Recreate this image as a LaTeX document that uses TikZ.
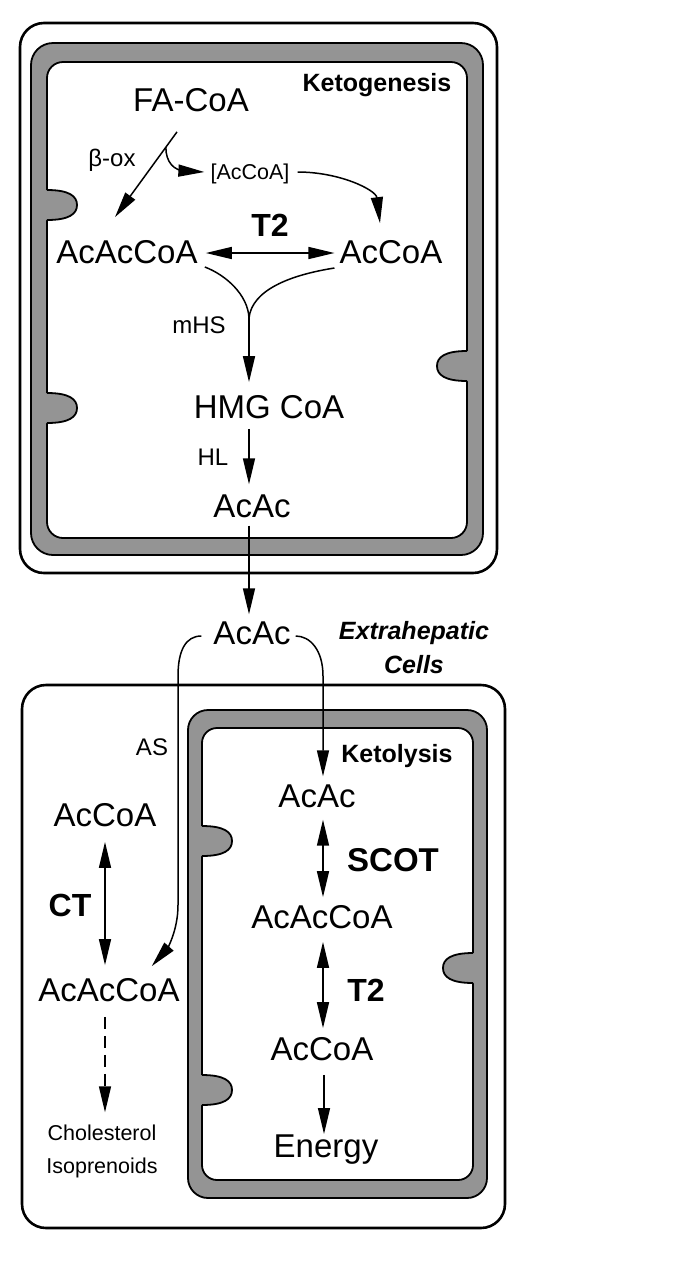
\documentclass[tikz,border=0pt]{standalone}
\usepackage{fontspec}
\setmainfont{Liberation Sans}
\usetikzlibrary{arrows.meta,calc}

\newcommand{\mol}{\fontsize{33}{38}\selectfont}
\newcommand{\enz}{\fontsize{24}{28}\selectfont}
\newcommand{\crista}[3]{% wall x, centre y, +1 = into the right, -1 = into the left
  \fill[membrane] ({#1-(#3)*5},#2-15) -- (#1,#2-15) .. controls ({#1+(#3)*22},#2-15) and ({#1+(#3)*30},#2-9) .. ({#1+(#3)*30},#2)
    .. controls ({#1+(#3)*30},#2+9) and ({#1+(#3)*22},#2+15) .. (#1,#2+15) -- ({#1-(#3)*5},#2+15) -- cycle;
  \draw[wall] (#1,#2-15) .. controls ({#1+(#3)*22},#2-15) and ({#1+(#3)*30},#2-9) .. ({#1+(#3)*30},#2)
    .. controls ({#1+(#3)*30},#2+9) and ({#1+(#3)*22},#2+15) .. (#1,#2+15);
}

\begin{document}
\begin{tikzpicture}[x=1pt, y=-1pt,
  every node/.style={inner sep=0pt},
  arr/.style={line width=1.5pt, -{Triangle[length=26pt,width=12pt]}},
  dbl/.style={line width=1.5pt, {Triangle[length=26pt,width=12pt]}-{Triangle[length=26pt,width=12pt]}},
  cellwall/.style={line width=2.6pt, rounded corners=24pt},
  membrane/.style={fill=black!42},
  wall/.style={line width=1.8pt}]
  \useasboundingbox (0,0) rectangle (685,1278);

  % liver cell
  \draw[cellwall] (20,23) rectangle (497,573);
  \draw[wall, membrane, rounded corners=22pt] (31,43) rectangle (483,555);
  \draw[wall, fill=white, rounded corners=16pt] (47,62) rectangle (467,538);
  \crista{47}{205}{1}
  \crista{47}{408}{1}
  \crista{467}{366}{-1}

  % extrahepatic cell
  \draw[cellwall] (22,685) rectangle (505,1228);
  \draw[wall, membrane, rounded corners=20pt] (188,710) rectangle (487,1198);
  \draw[wall, fill=white, rounded corners=15pt] (202,728) rectangle (473,1180);
  \crista{202}{841}{1}
  \crista{202}{1090}{1}
  \crista{473}{968}{-1}

  % ketogenesis
  \node[font=\bfseries\fontsize{25}{28}\selectfont] (ketogen) at (377,85) {Ketogenesis};
  \node[font=\mol] (facoa) at (191,100) {FA-CoA};
  \node[font=\enz] (betaox) at (112,160) {β-ox};
  \node[font=\fontsize{21.5}{24}\selectfont] (bacoa) at (250,174) {[AcCoA]};
  \node[font=\bfseries\fontsize{32}{36}\selectfont] (tt) at (270,225) {T2};
  \node[font=\mol] (acaccoa) at (127,252) {AcAcCoA};
  \node[font=\mol] (accoa) at (391,252) {AcCoA};
  \node[font=\enz] (mhs) at (199,325) {mHS};
  \node[font=\mol] (hmg) at (269,407) {HMG CoA};
  \node[font=\enz] (hl) at (213,457) {HL};
  \node[font=\mol] (acac) at (252,506) {AcAc};

  % blood
  \node[font=\mol] (acacb) at (252,633) {AcAc};
  \node[font=\bfseries\itshape\fontsize{25}{28}\selectfont] (extra) at (414,633) {Extrahepatic};
  \node[font=\bfseries\itshape\fontsize{25}{28}\selectfont] (cells) at (414,665) {Cells};

  % ketolysis
  \node[font=\bfseries\fontsize{25}{28}\selectfont] (ketol) at (397,756) {Ketolysis};
  \node[font=\enz] (as) at (152,747) {AS};
  \node[font=\mol] (acacx) at (317,796) {AcAc};
  \node[font=\bfseries\fontsize{33}{36}\selectfont] (scot) at (393,860) {SCOT};
  \node[font=\mol] (acaccoax) at (322,917) {AcAcCoA};
  \node[font=\bfseries\fontsize{32}{36}\selectfont] (tx) at (366,990) {T2};
  \node[font=\mol] (accoax) at (322,1049) {AcCoA};
  \node[font=\mol] (energy) at (326,1150) {Energy};

  % cytosol of extrahepatic cell
  \node[font=\mol] (accoal) at (105,815) {AcCoA};
  \node[font=\bfseries\fontsize{32}{36}\selectfont] (ct) at (70,905) {CT};
  \node[font=\mol] (acaccoal) at (109,990) {AcAcCoA};
  \node[font=\fontsize{21.5}{33}\selectfont, align=center] (chol) at (102,1151) {Cholesterol\\Isoprenoids};

  % connectors, liver
  \draw[arr] ($(facoa.south)+(-14,20)$) -- coordinate[pos=0.18] (split) ($(acaccoa.north)+(-12,-23)$);
  \draw[arr] (split) .. controls +(0,15) and +(-12,0) .. (186,171) -- ($(bacoa.west)+(-6,-2)$);
  \draw[arr] ($(bacoa.east)+(8,-2)$) .. controls (340,172) and (376,190) .. ($(accoa.north)+(-11,-17)$);
  \draw[dbl] ($(acaccoa.east)+(8,1)$) -- ($(accoa.west)+(-5,1)$);
  \coordinate (merge) at (249,318);
  \draw[line width=1.5pt] ($(acaccoa.east)+(7,15)$) .. controls (226,275) and (248,295) .. (merge);
  \draw[line width=1.5pt] ($(accoa.west)+(-5,16)$) .. controls (290,275) and (252,290) .. (merge);
  \draw[arr] (merge) -- ($(hmg.north -| merge)+(0,-13)$);
  \draw[arr] ($(hmg.south -| merge)+(0,10)$) -- ($(acac.north -| merge)+(0,-10)$);
  \draw[arr] ($(acac.south -| merge)+(0,8)$) -- ($(acacb.north -| merge)+(0,-7)$);

  % connectors, extrahepatic
  \coordinate (axis) at (323,0);
  \draw[arr] ($(acacb.west)+(-12,3)$) .. controls (186,636) and (178,650) .. (178,676) -- (178,905)
    .. controls (178,932) and (166,950) .. ($(acaccoal.north east)+(-28,-12)$);
  \draw[arr] ($(acacb.east)+(5,3)$) .. controls (310,636) and (323,650) .. (323,676) -- ($(acacx.north -| axis)+(0,-8)$);
  \draw[dbl] ($(acacx.south -| axis)+(0,12)$) -- ($(acaccoax.north -| axis)+(0,-8)$);
  \draw[dbl] ($(acaccoax.south -| axis)+(0,13)$) -- ($(accoax.north -| axis)+(0,-9)$);
  \draw[arr] ($(accoax.south -| axis)+(1,14)$) -- ($(energy.north -| axis)+(1,-1)$);
  \draw[dbl] ($(accoal.south)+(0,15)$) -- ($(acaccoal.north -| accoal)+(0,-13)$);
  \draw[arr, dash pattern=on 12pt off 7pt] ($(acaccoal.south -| accoal)+(0,15)$) -- ($(chol.north -| accoal)+(0,-12)$);
\end{tikzpicture}
\end{document}
